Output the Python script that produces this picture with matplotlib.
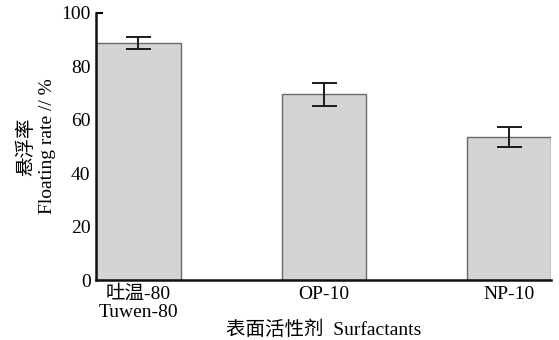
import matplotlib
matplotlib.use('Agg')
import matplotlib.pyplot as plt

# Data
categories = ['吐温-80\nTuwen-80', 'OP-10', 'NP-10']
rates = [88.7, 69.6, 53.6]
errors = [2.2, 4.3, 3.8]
y_ticks = [0, 20, 40, 60, 80, 100]

serif = ['Liberation Serif', 'Noto Sans CJK SC']

fig = plt.figure(figsize=(5.59, 3.40), dpi=100)
ax = fig.add_axes([0.172, 0.176, 0.814, 0.786])

x = list(range(len(categories)))
ax.bar(x, rates, width=0.455, color='#d4d4d4', edgecolor='#6a6a6a', linewidth=1.0, zorder=2)
ax.errorbar(x, rates, yerr=errors, fmt='none', ecolor='#1a1a1a', elinewidth=1.4,
            capsize=9, capthick=1.4, zorder=3)

ax.set_xlim(-0.228, 2.228)
ax.set_ylim(0, 100)
ax.set_yticks(y_ticks)
ax.set_xticks(x)
ax.set_xticklabels(categories, family=serif, fontsize=14, linespacing=1.05)
ax.set_yticklabels([str(v) for v in y_ticks], family=serif, fontsize=14)

for s in ['top', 'right']:
    ax.spines[s].set_visible(False)
for s in ['left', 'bottom']:
    ax.spines[s].set_linewidth(1.8)
    ax.spines[s].set_color('#111111')

ax.tick_params(axis='y', direction='in', length=5, width=1.5, pad=4)
ax.tick_params(axis='x', length=0, pad=4)

ax.set_xlabel('表面活性剂  Surfactants', family=serif, fontsize=14, labelpad=0)
ax.set_ylabel('悬浮率\nFloating rate // %', family=serif, fontsize=14, labelpad=4,
              linespacing=1.25)

fig.savefig('out.png', dpi=100)
